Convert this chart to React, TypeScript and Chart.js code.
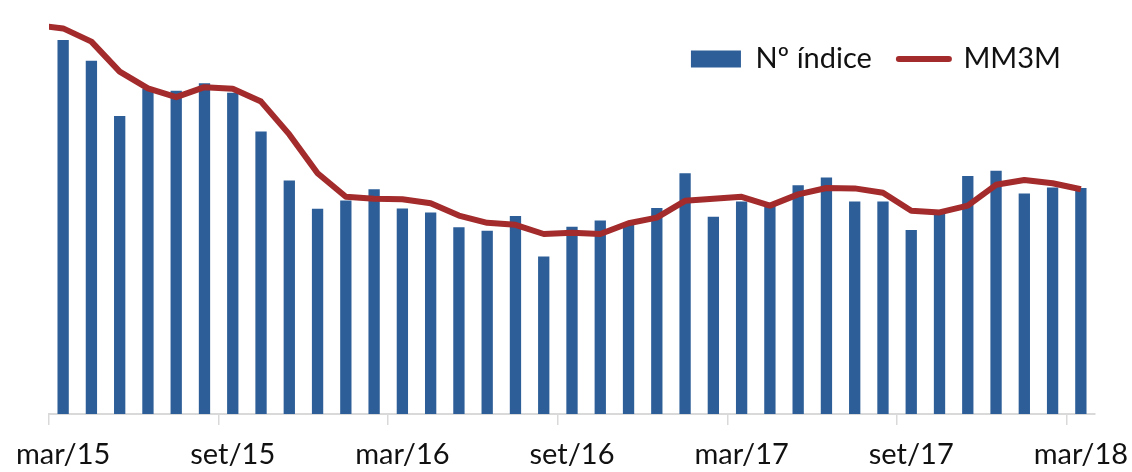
import React, { useEffect, useRef } from 'react';
import { Chart, registerables } from 'chart.js';

Chart.register(...registerables);

// Months (Portuguese). The first one (fev/15) lies just before the visible range;
// only its moving-average point is needed, so the MM3M line enters from the left edge.
const categories = [
  'fev/15', 'mar/15', 'abr/15', 'mai/15', 'jun/15', 'jul/15', 'ago/15', 'set/15', 'out/15', 'nov/15', 'dez/15',
  'jan/16', 'fev/16', 'mar/16', 'abr/16', 'mai/16', 'jun/16', 'jul/16', 'ago/16', 'set/16', 'out/16', 'nov/16', 'dez/16',
  'jan/17', 'fev/17', 'mar/17', 'abr/17', 'mai/17', 'jun/17', 'jul/17', 'ago/17', 'set/17', 'out/17', 'nov/17', 'dez/17',
  'jan/18', 'fev/18', 'mar/18',
];

const shownTickLabels = ['mar/15', 'set/15', 'mar/16', 'set/16', 'mar/17', 'set/17', 'mar/18'];

const indexValues = [
  null,
  93.5, 88.3, 74.5, 81.3, 80.8, 82.7, 80.3, 70.6, 58.4, 51.3,
  53.4, 56.2, 51.4, 50.4, 46.7, 45.8, 49.5, 39.4, 46.8, 48.4, 47.5, 51.5,
  60.2, 49.3, 53.1, 52.8, 57.2, 59.1, 53.1, 53.1, 46.0, 50.5, 59.5, 60.8,
  55.1, 56.6, 56.5,
];

const mm3mValues = [
  97.2,
  96.4, 93.1, 85.6, 81.4, 79.2, 81.7, 81.3, 78.1, 69.9, 60.2,
  54.3, 53.8, 53.7, 52.7, 49.6, 47.8, 47.3, 45.0, 45.3, 45.0, 47.7, 49.1,
  53.3, 53.8, 54.3, 52.1, 54.9, 56.5, 56.4, 55.3, 50.8, 50.4, 52.1, 57.3,
  58.5, 57.7, 56.2,
];

const seriesNames = ['Nº índice', 'MM3M'];

const BLUE = '#2D5E98';
const RED = '#A32B2B';
const AXIS = '#D9D9D9';
const TEXT = '#111111';
const FONT = { family: 'Lato', size: 29, lineHeight: 1 };

// Let the legend float over the plot area (as in the original) instead of taking layout space.
const legendInside = {
  id: 'legendInside',
  beforeInit(chart: any) {
    const legend = chart.legend;
    if (legend) {
      const origFit = legend.fit;
      legend.fit = function () {
        origFit.call(this);
        this.height = 0;
      };
    }
  },
  afterLayout(chart: any) {
    const legend = chart.legend;
    if (legend) {
      legend.top = 17.5;
      legend.height = 90;
      legend.bottom = legend.top + legend.height;
      legend.right = 1088;
    }
  },
};

export default function App() {
  const ref = useRef<HTMLCanvasElement>(null);

  useEffect(() => {
    if (!ref.current) return;
    const chart = new Chart(ref.current, {
      type: 'bar',
      data: {
        labels: categories,
        datasets: [
          {
            type: 'bar',
            label: seriesNames[0],
            data: indexValues,
            backgroundColor: BLUE,
            borderWidth: 0,
            categoryPercentage: 0.8,
            barPercentage: 0.5,
            order: 2,
          } as any,
          {
            type: 'line',
            label: seriesNames[1],
            data: mm3mValues,
            borderColor: RED,
            backgroundColor: RED,
            borderWidth: 6,
            pointRadius: 0,
            pointHoverRadius: 0,
            tension: 0,
            fill: false,
            borderJoinStyle: 'round',
            borderCapStyle: 'butt',
            order: 1,
          } as any,
        ],
      },
      options: {
        responsive: false,
        animation: false,
        devicePixelRatio: 1,
        layout: { padding: { left: 49, right: 37, top: 14, bottom: 0 } },
        scales: {
          x: {
            type: 'category',
            min: 'mar/15',
            offset: true,
            grid: {
              offset: true,
              drawOnChartArea: false,
              drawTicks: true,
              tickLength: 11,
              lineWidth: 1.5,
              color: (ctx: any) =>
                ctx.tick && shownTickLabels.includes(categories[ctx.tick.value]) ? AXIS : 'rgba(0,0,0,0)',
            },
            border: { display: true, color: AXIS, width: 2 },
            ticks: {
              autoSkip: false,
              maxRotation: 0,
              minRotation: 0,
              padding: 15.5,
              color: TEXT,
              font: FONT,
              callback: function (this: any, value: any) {
                const lab = categories[value as number];
                return shownTickLabels.includes(lab) ? lab : '';
              },
            },
            afterFit: (scale: any) => {
              scale.height = 58;
              scale.paddingLeft = 0;
              scale.paddingRight = 0;
            },
          } as any,
          y: {
            display: false,
            min: 0,
            max: 100,
          },
        },
        plugins: {
          legend: {
            display: true,
            position: 'top',
            align: 'end',
            labels: {
              usePointStyle: true,
              pointStyleWidth: 50,
              boxHeight: 17,
              padding: 27,
              color: TEXT,
              font: FONT,
              generateLabels: () => [
                {
                  text: seriesNames[0],
                  fillStyle: BLUE,
                  strokeStyle: BLUE,
                  lineWidth: 0,
                  pointStyle: 'rect',
                  hidden: false,
                  datasetIndex: 0,
                  fontColor: TEXT,
                },
                {
                  text: seriesNames[1],
                  fillStyle: RED,
                  strokeStyle: RED,
                  lineWidth: 6,
                  lineCap: 'round',
                  pointStyle: 'line',
                  hidden: false,
                  datasetIndex: 1,
                  fontColor: TEXT,
                },
              ],
            },
          } as any,
          tooltip: { enabled: false },
        },
      },
      plugins: [legendInside],
    });
    return () => chart.destroy();
  }, []);

  return (
    <canvas
      ref={ref}
      width={1132}
      height={472}
      style={{ position: 'absolute', left: 0, top: 0, width: 1132, height: 472, display: 'block' }}
    />
  );
}
